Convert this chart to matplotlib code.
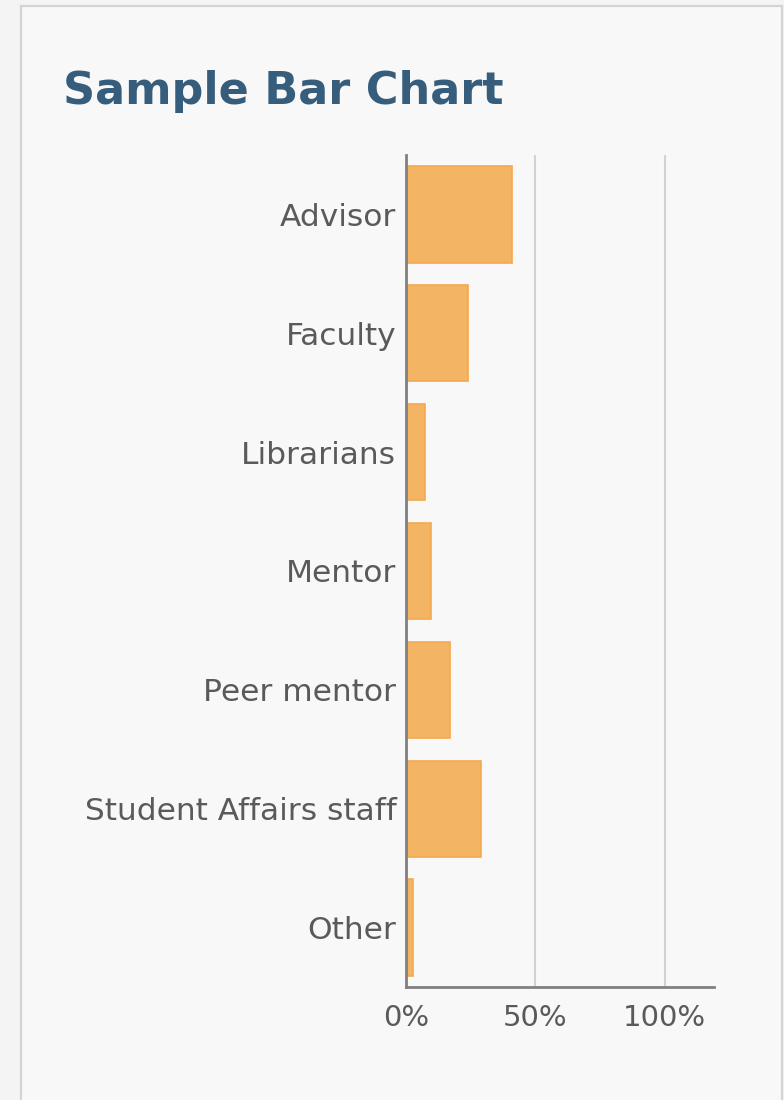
import matplotlib
matplotlib.use('Agg')
import matplotlib.pyplot as plt
from matplotlib.patches import Rectangle
from matplotlib.ticker import FuncFormatter

categories = ['Advisor', 'Faculty', 'Librarians', 'Mentor', 'Peer mentor', 'Student Affairs staff', 'Other']
percent = [41, 24, 7.3, 9.7, 17, 29, 2.7]
xticks = [0, 50, 100]

plt.rcParams['font.family'] = ['DejaVu Sans']

fig = plt.figure(figsize=(7.84, 11), dpi=100, facecolor='#f4f4f4')

# panel box
fig.patches.append(Rectangle((21 / 784, -0.01), 761 / 784, 1 - 6 / 1100 + 0.01,
                             transform=fig.transFigure, facecolor='#f8f8f8',
                             edgecolor='#d4d4d4', linewidth=1.6, zorder=-5))

fig.text(63 / 784, 1 - 104 / 1100, 'Sample Bar Chart', color='#365d7c',
         fontsize=32, fontweight='bold', ha='left', va='baseline')

ax = fig.add_axes([406 / 784, 1 - 987 / 1100, 308 / 784, 832 / 1100])
ax.set_facecolor('none')
ax.set_zorder(2)

ypos = list(range(len(categories)))
ax.barh(ypos, percent, height=0.81, color='#f3b463', edgecolor='#f5a84e', linewidth=1.2, zorder=3)

ax.set_ylim(len(categories) - 0.5, -0.5)
ax.set_xlim(0, 119)
ax.set_yticks(ypos)
ax.set_yticklabels(categories)
ax.set_xticks(xticks)
ax.xaxis.set_major_formatter(FuncFormatter(lambda v, p: f'{v:.0f}%'))

ax.grid(axis='x', color='#d2d2d2', linewidth=1.5, zorder=1)
ax.grid(axis='y', visible=False)
ax.tick_params(axis='both', length=0, labelcolor='#5a5a5a')
ax.tick_params(axis='y', pad=7, labelsize=22.5)
ax.tick_params(axis='x', pad=12, labelsize=21)

for s in ['top', 'right']:
    ax.spines[s].set_visible(False)
for s in ['left', 'bottom']:
    ax.spines[s].set_color('#808080')
    ax.spines[s].set_linewidth(2)
    ax.spines[s].set_zorder(4)

fig.savefig('out.png', dpi=100, facecolor=fig.get_facecolor())
